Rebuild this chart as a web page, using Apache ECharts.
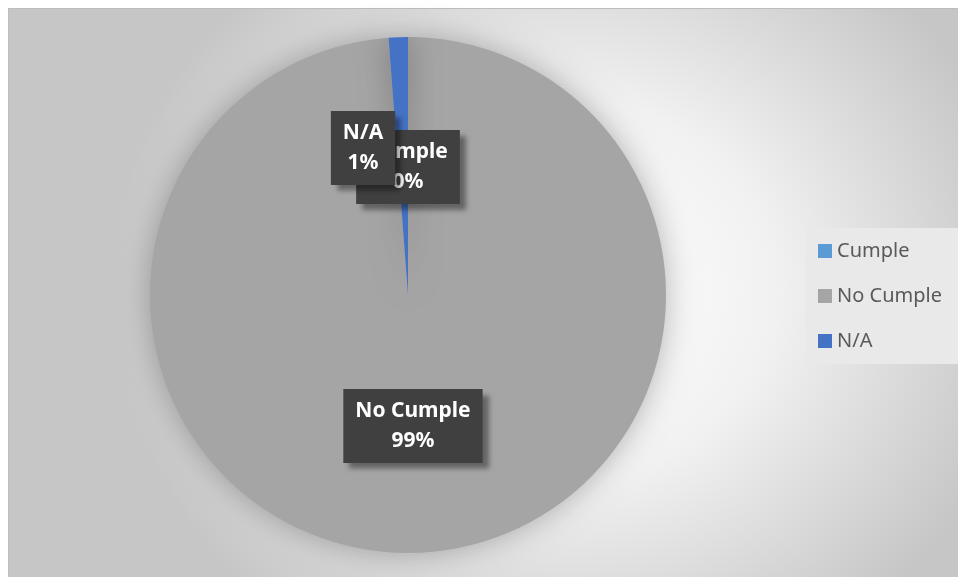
<!DOCTYPE html>
<html>
<head>
<meta charset="utf-8">
<script src="https://cdn.jsdelivr.net/npm/echarts@6/dist/echarts.min.js"></script>
<style>
html,body{margin:0;padding:0;background:#fff;}
#chart{width:958px;height:577px;}
</style>
</head>
<body>
<div id="chart"></div>
<script>
// Data
var categories = ['Cumple', 'No Cumple', 'N/A'];
var values = [0, 98.8, 1.2];
var colors = ['#5B9BD5', '#A5A5A5', '#4472C4'];
var labelOffsets = [[0, 4], [0, -1], [-40, -15]];

var chart = echarts.init(document.getElementById('chart'), null, {renderer: 'canvas'});

var data = categories.map(function (name, i) {
  return {
    name: name,
    value: values[i],
    itemStyle: {color: colors[i]},
    label: {offset: labelOffsets[i]}
  };
});

var scaleX = 460 / 420;
var option = {
  animation: false,
  backgroundColor: '#ffffff',
  graphic: [
    {
      type: 'rect',
      z: -10,
      silent: true,
      x: 8, y: 8,
      scaleX: scaleX,
      shape: {x: 0, y: 0, width: 950 / scaleX, height: 569},
      style: {
        fill: new echarts.graphic.RadialGradient((570 - 8) / 950, (290 - 8) / 569, 420 / 569, [
          {offset: 0, color: '#ffffff'},
          {offset: 0.45, color: '#f1f1f1'},
          {offset: 1, color: '#c6c6c6'}
        ])
      }
    },
    {
      type: 'polyline',
      z: -9,
      silent: true,
      shape: {points: [[8.5, 577], [8.5, 8.5], [958, 8.5]]},
      style: {stroke: '#bdbdbd', lineWidth: 1, fill: null}
    }
  ],
  legend: {
    orient: 'vertical',
    left: 806,
    top: 228,
    padding: [13, 26, 13, 12],
    backgroundColor: '#e9e9e9',
    itemWidth: 14,
    itemHeight: 14,
    itemGap: 25,
    icon: 'rect',
    data: categories,
    textStyle: {
      fontFamily: 'Noto Sans',
      fontSize: 20,
      lineHeight: 20,
      color: '#595959'
    }
  },
  series: [
    {
      type: 'pie',
      center: [408, 295],
      radius: 258,
      startAngle: 90,
      clockwise: true,
      percentPrecision: 0,
      avoidLabelOverlap: false,
      minShowLabelAngle: -1,
      labelLayout: {hideOverlap: false},
      emphasis: {disabled: true},
      itemStyle: {
        borderWidth: 0,
        shadowBlur: 30,
        shadowColor: 'rgba(0,0,0,0.28)'
      },
      label: {
        show: true,
        position: 'inside',
        formatter: '{b}\n{d}%',
        fontFamily: 'Noto Sans',
        fontWeight: 'bold',
        fontSize: 21,
        lineHeight: 30,
        color: '#ffffff',
        backgroundColor: '#404040',
        padding: [7, 12],
        shadowColor: 'rgba(0,0,0,0.4)',
        shadowBlur: 5,
        shadowOffsetX: 6,
        shadowOffsetY: 6
      },
      labelLine: {show: false},
      data: data
    }
  ]
};
chart.setOption(option);
</script>
</body>
</html>
